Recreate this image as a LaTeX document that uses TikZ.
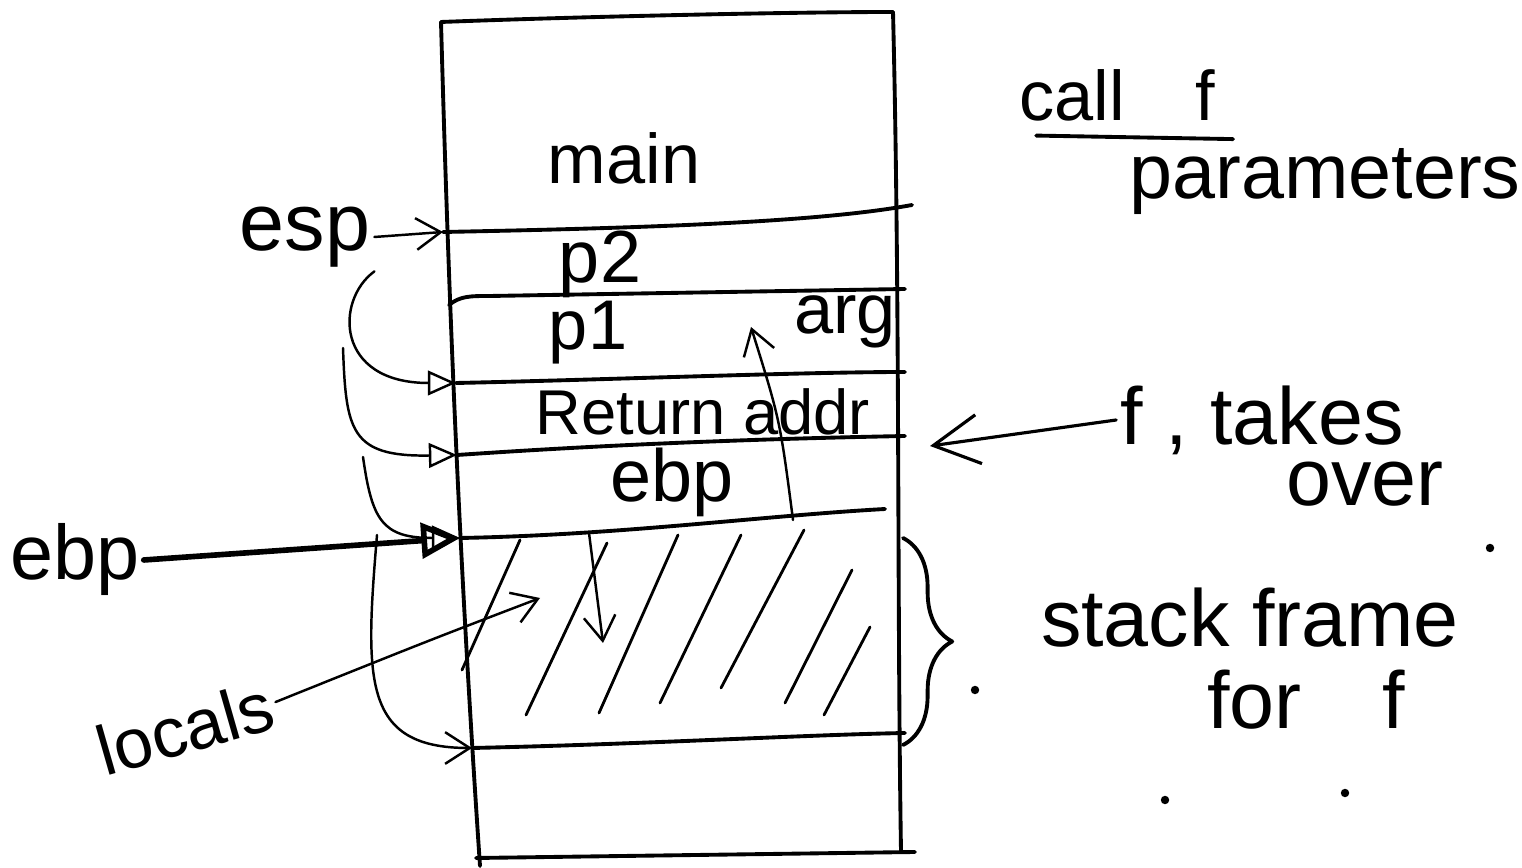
\documentclass[tikz,border=0pt]{standalone}
\usepackage{fontspec}
\setmainfont{Liberation Sans}
\usetikzlibrary{arrows.meta, positioning, decorations.pathreplacing}

\begin{document}
\begin{tikzpicture}[
    x=0.01cm, y=-0.01cm,
    ink/.style={line width=1.1pt, line cap=round, line join=round},
    pen/.style={line width=0.7pt, line cap=round, line join=round},
    hand/.style={inner sep=1pt, font=\fontsize{20}{24}\selectfont},
    big/.style={inner sep=1pt, font=\fontsize{23}{27}\selectfont},
    barb/.style={-{Straight Barb[length=7pt,width=9pt]}},
    tri/.style={-{Triangle[open,length=8pt,width=7pt]}},
    hatch/.style={line width=0.8pt, line cap=round}
]
\useasboundingbox (0,0) rectangle (1522,868);

% stack outline
\coordinate (tl) at (441,22);
\coordinate (tr) at (893,12);
\coordinate (bl) at (480,866);
\coordinate (br) at (901,852);
\draw[ink] (tl) .. controls (600,16) and (800,12) .. (tr);
\draw[ink] (tl) .. controls (450,350) and (462,600) .. (bl);
\draw[ink] (tr) .. controls (900,300) and (897,600) .. (br);
\draw[ink] (476,858) -- (915,852);

% row boundaries
\coordinate (r1) at (443,232);  \coordinate (r1e) at (912,205);
\coordinate (r2) at (449,305);  \coordinate (r2e) at (905,289);
\coordinate (r3) at (456,383);  \coordinate (r3e) at (905,372);
\coordinate (r4) at (457,455);  \coordinate (r4e) at (905,436);
\coordinate (r5) at (460,538);  \coordinate (r5e) at (885,509);
\coordinate (r6) at (472,748);  \coordinate (r6e) at (905,733);
\draw[ink] (r1) .. controls (650,228) and (820,222) .. (r1e);
\draw[ink] (r2) .. controls (460,296) and (470,296) .. (490,296) -- (r2e);
\draw[ink] (r3) .. controls (600,380) and (800,372) .. (r3e);
\draw[ink] (r4) .. controls (560,448) and (700,440) .. (r4e);
\draw[ink] (r5) .. controls (620,535) and (760,516) .. (r5e);
\draw[ink] (r6) .. controls (650,744) and (800,735) .. (r6e);

% hatched locals
\foreach \xa/\ya/\xb/\yb in {520/540/462/670, 607/543/526/715, 678/535/599/713,
    741/535/660/703, 804/530/721/688, 852/570/785/703, 870/627/824/715}
  \draw[hatch] (\xa,\ya) -- (\xb,\yb);

% labels in the stack
\node[hand] (main) at (624,158) {main};
\node[hand, font=\fontsize{21}{24}\selectfont] (p2) at (600,264) {p2};
\node[hand] (p1) at (588,333) {p1};
\node[hand] (arg) at (845,322) {arg};
\node[hand, font=\fontsize{18}{22}\selectfont] (retaddr) at (703,412) {Return addr};
\node[hand, font=\fontsize{21}{24}\selectfont] (ebpin) at (672,482) {ebp};

% labels on the left
\node[hand, font=\fontsize{23}{26}\selectfont] (esp) at (305,237) {esp};
\node[hand, font=\fontsize{22}{26}\selectfont] (ebpout) at (75,560) {ebp};
\node[hand, rotate=16] (locals) at (185,728) {locals};

% labels on the right
\node[hand] (callf) at (1117,95) {call\quad f};
\node[hand, font=\fontsize{22}{26}\selectfont] (params) at (1325,182) {parameters};
\node[big] (ftakes) at (1262,420) {f , takes};
\node[big] (over) at (1365,484) {over};
\node[big] (frame) at (1250,618) {stack frame};
\node[big, below=4pt of frame, xshift=16pt] (forf) {for\quad f};

% pointers
\coordinate (s2) at (343,348);
\coordinate (s3) at (363,457);
\coordinate (s4) at (377,535);
\draw[pen, barb] (esp.east) -- (r1);
\draw[pen, tri] (esp.south east) .. controls (335,300) and (335,383) .. (r3);
\draw[pen, tri] (s2) .. controls (346,430) and (350,457) .. (r4);
\draw[pen, tri] (s3) .. controls (372,520) and (382,538) .. (r5);
\draw[pen, barb] (s4) .. controls (365,680) and (362,748) .. (r6);
\draw[ink, line width=1.6pt, -{Triangle[open,length=11pt,width=10pt]}] (ebpout.east) -- (r5);
\draw[pen, barb] (locals.east) .. controls (430,640) .. (540,598);

% moves of ebp and esp
\coordinate (d1) at (589,533);
\coordinate (d2) at (603,643);
\coordinate (u1) at (793,520);
\coordinate (u2) at (751,327);
\draw[pen, barb] (d1) -- (d2);
\draw[pen, barb] (u1) .. controls (780,420) .. (u2);

% f takes over
\coordinate (fa) at (930,446);
\draw[pen, line width=0.9pt, -{Straight Barb[length=13pt,width=14pt]}] (ftakes.west) -- (fa);
\draw[ink] ([xshift=6pt,yshift=-3pt]callf.south west) -- ([xshift=4pt,yshift=-4pt]callf.south east);

% stack frame brace
\coordinate (b1) at (903,538);
\coordinate (b2) at (903,745);
\draw[ink, decorate, decoration={brace, amplitude=14pt}] (b1) -- (b2);

% stray dots
\foreach \dx/\dy in {1490/548, 975/690, 1165/800, 1345/793}
  \fill (\dx,\dy) circle (1.2pt);
\end{tikzpicture}
\end{document}
